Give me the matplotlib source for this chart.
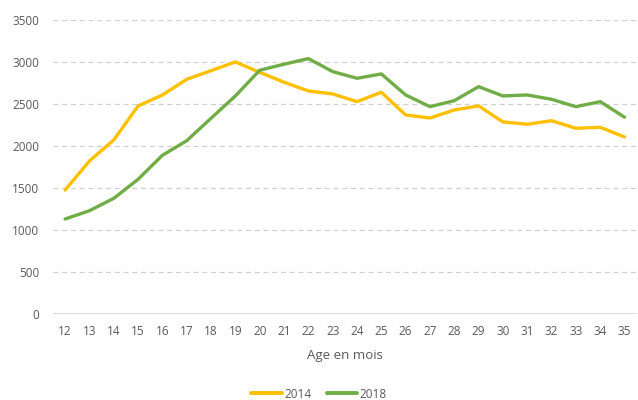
import matplotlib
matplotlib.use("Agg")
import matplotlib.pyplot as plt
from matplotlib.ticker import FixedLocator

ages = list(range(12, 36))
y2014 = [1475, 1822, 2073, 2479, 2610, 2797, 2900, 3004, 2880, 2762, 2658, 2622,
         2530, 2642, 2371, 2335, 2431, 2479, 2288, 2260, 2303, 2212, 2224, 2108]
y2018 = [1129, 1228, 1376, 1603, 1890, 2064, 2332, 2598, 2905, 2977, 3044, 2889,
         2809, 2861, 2610, 2470, 2542, 2709, 2598, 2610, 2558, 2470, 2530, 2344]
series_labels = ["2014", "2018"]
yticks = [0, 500, 1000, 1500, 2000, 2500, 3000, 3500]

plt.rcParams['font.family'] = ['Open Sans', 'DejaVu Sans']

fig = plt.figure(figsize=(6.38, 4.0), dpi=100)
ax = fig.add_axes([0.083, 0.216, 0.915, 0.733])

c14 = "#FFC000"
c18 = "#70AD47"
ax.plot(ages, y2014, color=c14, lw=2.4, label=series_labels[0], solid_capstyle='round')
ax.plot(ages, y2018, color=c18, lw=2.4, label=series_labels[1], solid_capstyle='round')

ax.set_xlim(11.5, 35.5)
ax.set_ylim(0, 3500)
ax.yaxis.set_major_locator(FixedLocator(yticks))
ax.set_xticks(ages)
ax.set_xticklabels([str(a) for a in ages])

for v in yticks[1:]:
    ax.axhline(v, color="#D0D0D0", lw=0.9, ls=(0, (4, 3)), zorder=0)
ax.axhline(0, color="#D9D9D9", lw=1.3, zorder=1)

for s in ax.spines.values():
    s.set_visible(False)
ax.tick_params(axis='both', length=0, labelsize=8.5, colors="#595959")
ax.tick_params(axis='y', pad=10)
ax.tick_params(axis='x', pad=8)

ax.set_xlabel("Age en mois", fontsize=9.5, color="#595959", labelpad=8)

leg = fig.legend(loc='center', bbox_to_anchor=(0.5, 0.015), ncol=2, frameon=False,
                 fontsize=8.5, handlelength=2.6, handletextpad=0.2, columnspacing=1.3)
for t in leg.get_texts():
    t.set_color("#595959")
for l in leg.get_lines():
    l.set_linewidth(2.8)

fig.savefig("out.png", dpi=100)
